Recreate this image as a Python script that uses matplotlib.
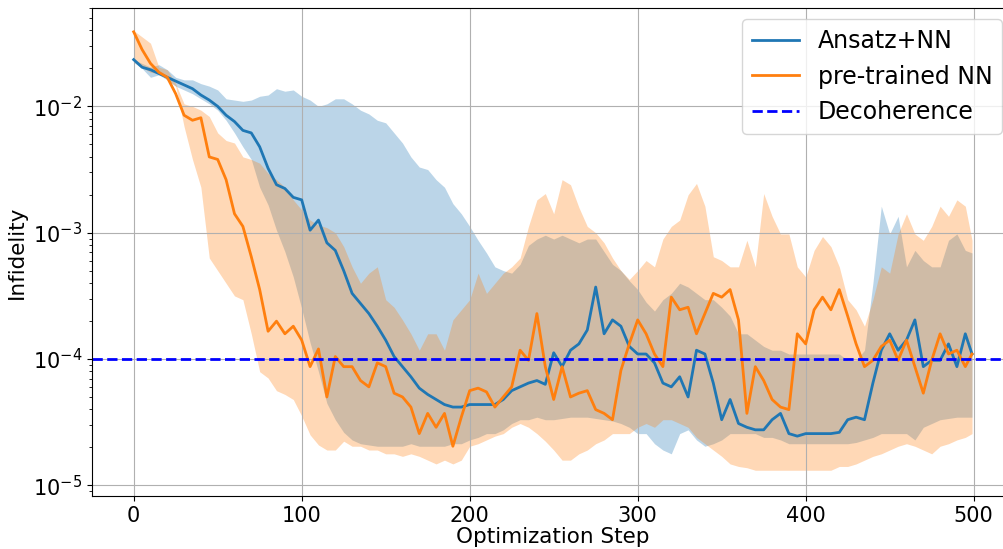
import numpy as np
import matplotlib
matplotlib.use("Agg")
import matplotlib.pyplot as plt

steps = list(range(0, 500, 5)) + [499]

# log10(infidelity), mean curves
ansatz_nn = [-1.63, -1.69, -1.71, -1.74, -1.77, -1.80, -1.83, -1.86, -1.91, -1.95,
             -2.00, -2.07, -2.12, -2.19, -2.21, -2.32, -2.49, -2.62, -2.65, -2.72,
             -2.74, -2.98, -2.90, -3.08, -3.14, -3.30, -3.48, -3.56, -3.64, -3.74,
             -3.85, -3.98, -4.06, -4.14, -4.23, -4.28, -4.32, -4.36, -4.38, -4.38,
             -4.36, -4.36, -4.36, -4.36, -4.32, -4.25, -4.22, -4.19, -4.17, -4.20,
             -3.95, -4.06, -3.93, -3.88, -3.77, -3.43, -3.80, -3.69, -3.74, -3.90,
             -3.96, -3.96, -4.03, -4.19, -4.22, -4.14, -4.30, -3.93, -3.96, -4.19,
             -4.48, -4.32, -4.51, -4.54, -4.56, -4.56, -4.48, -4.43, -4.59, -4.61,
             -4.59, -4.59, -4.59, -4.59, -4.58, -4.48, -4.46, -4.48, -4.19, -3.93,
             -3.80, -3.93, -3.85, -3.69, -4.06, -4.01, -4.01, -3.88, -4.06, -3.80,
             -3.96]
pretrained_nn = [-1.41, -1.55, -1.66, -1.73, -1.77, -1.90, -2.07, -2.11, -2.09, -2.40,
                 -2.42, -2.58, -2.85, -2.95, -3.19, -3.45, -3.78, -3.70, -3.80, -3.74,
                 -3.85, -4.06, -3.92, -4.30, -3.98, -4.06, -4.06, -4.17, -4.22, -4.03,
                 -4.06, -4.27, -4.30, -4.38, -4.59, -4.43, -4.54, -4.43, -4.69, -4.46,
                 -4.25, -4.23, -4.26, -4.38, -4.30, -4.22, -3.93, -4.01, -3.64, -4.06,
                 -4.32, -4.06, -4.30, -4.27, -4.25, -4.40, -4.43, -4.48, -4.09, -3.88,
                 -3.69, -3.80, -3.96, -4.06, -3.51, -3.61, -3.59, -3.80, -3.64, -3.48,
                 -3.51, -3.45, -3.69, -4.43, -4.06, -4.17, -4.32, -4.38, -4.40, -3.80,
                 -3.88, -3.61, -3.51, -3.61, -3.45, -3.66, -3.88, -4.06, -4.01, -3.90,
                 -3.85, -4.01, -3.85, -4.06, -4.27, -4.01, -3.80, -3.96, -3.93, -4.06,
                 -3.96]

# log10(infidelity), shaded band edges
ansatz_hi = [-1.63, -1.66, -1.69, -1.67, -1.71, -1.77, -1.79, -1.79, -1.82, -1.84,
             -1.87, -1.94, -1.95, -1.96, -1.95, -1.92, -1.91, -1.86, -1.88, -1.87,
             -1.92, -1.95, -2.00, -1.98, -1.94, -1.94, -1.98, -2.03, -2.06, -2.11,
             -2.13, -2.21, -2.29, -2.40, -2.48, -2.50, -2.58, -2.64, -2.77, -2.85,
             -2.95, -3.06, -3.16, -3.27, -3.30, -3.32, -3.25, -3.10, -3.05, -3.02,
             -3.05, -3.02, -3.05, -3.08, -3.05, -3.05, -3.15, -3.25, -3.30, -3.38,
             -3.45, -3.55, -3.62, -3.53, -3.48, -3.40, -3.43, -3.48, -3.53, -3.53,
             -3.59, -3.66, -3.80, -3.80, -3.85, -3.90, -3.93, -3.93, -3.96, -3.96,
             -3.96, -3.96, -3.96, -3.96, -3.96, -4.01, -4.01, -3.93, -3.40, -2.79,
             -3.01, -2.87, -3.27, -3.14, -3.22, -3.27, -3.27, -3.06, -3.01, -3.14,
             -3.16]
ansatz_lo = [-1.65, -1.70, -1.77, -1.75, -1.79, -1.84, -1.87, -1.90, -1.94, -1.98,
             -2.03, -2.11, -2.21, -2.32, -2.42, -2.64, -2.78, -2.98, -3.15, -3.35,
             -3.60, -3.87, -4.10, -4.35, -4.48, -4.58, -4.64, -4.67, -4.68, -4.69,
             -4.69, -4.69, -4.69, -4.67, -4.69, -4.69, -4.69, -4.69, -4.67, -4.67,
             -4.64, -4.62, -4.59, -4.59, -4.56, -4.51, -4.48, -4.48, -4.46, -4.48,
             -4.48, -4.47, -4.46, -4.46, -4.46, -4.47, -4.48, -4.49, -4.51, -4.54,
             -4.59, -4.59, -4.67, -4.72, -4.75, -4.59, -4.56, -4.64, -4.69, -4.67,
             -4.64, -4.59, -4.59, -4.59, -4.59, -4.62, -4.62, -4.64, -4.67, -4.67,
             -4.67, -4.67, -4.67, -4.67, -4.67, -4.67, -4.66, -4.64, -4.62, -4.59,
             -4.59, -4.59, -4.59, -4.64, -4.54, -4.51, -4.48, -4.47, -4.46, -4.46,
             -4.46]
pretrained_hi = [-1.40, -1.45, -1.50, -1.69, -1.71, -1.82, -1.98, -2.00, -2.03, -2.08,
                 -2.21, -2.27, -2.29, -2.40, -2.42, -2.45, -2.53, -2.58, -2.64, -2.74,
                 -2.82, -2.90, -2.94, -2.96, -3.00, -3.11, -3.27, -3.40, -3.32, -3.27,
                 -3.53, -3.59, -3.69, -3.80, -3.93, -3.80, -3.80, -3.93, -3.69, -3.61,
                 -3.53, -3.32, -3.48, -3.40, -3.32, -3.27, -3.20, -2.95, -2.74, -2.69,
                 -2.85, -2.58, -2.62, -2.80, -2.95, -3.00, -3.08, -3.20, -3.30, -3.37,
                 -3.30, -3.22, -3.27, -3.05, -2.95, -2.90, -2.70, -2.61, -2.79, -3.19,
                 -3.22, -3.27, -3.27, -3.06, -3.27, -2.69, -2.87, -3.01, -3.01, -3.27,
                 -3.35, -3.14, -3.03, -3.11, -3.27, -3.53, -3.61, -3.74, -3.53, -3.27,
                 -3.32, -3.01, -2.85, -3.01, -3.06, -2.95, -2.79, -2.87, -2.74, -2.79,
                 -3.06]
pretrained_lo = [-1.65, -1.69, -1.73, -1.74, -1.79, -1.84, -2.16, -2.42, -2.64, -3.20,
                 -3.30, -3.40, -3.50, -3.53, -3.80, -4.10, -4.15, -4.25, -4.28, -4.32,
                 -4.45, -4.60, -4.68, -4.72, -4.72, -4.65, -4.69, -4.69, -4.72, -4.72,
                 -4.75, -4.75, -4.77, -4.75, -4.77, -4.80, -4.83, -4.80, -4.83, -4.80,
                 -4.69, -4.67, -4.64, -4.61, -4.59, -4.54, -4.51, -4.54, -4.59, -4.65,
                 -4.72, -4.80, -4.80, -4.75, -4.72, -4.67, -4.64, -4.59, -4.59, -4.59,
                 -4.54, -4.51, -4.54, -4.48, -4.48, -4.51, -4.54, -4.62, -4.67, -4.72,
                 -4.77, -4.83, -4.85, -4.86, -4.88, -4.88, -4.88, -4.88, -4.88, -4.88,
                 -4.88, -4.88, -4.88, -4.88, -4.85, -4.85, -4.83, -4.80, -4.77, -4.75,
                 -4.72, -4.69, -4.67, -4.69, -4.72, -4.75, -4.69, -4.67, -4.64, -4.62,
                 -4.59]

decoherence = 1e-4

x = np.array(steps)
p = lambda v: 10.0 ** np.array(v)

fig = plt.figure(figsize=(10.04, 5.49), dpi=100)
# right spine sits just past the image edge in the reference
ax = fig.add_axes([0.0914, 0.096, 0.9185, 0.8903])

ax.fill_between(x, p(ansatz_lo), p(ansatz_hi), color='C0', alpha=0.3, lw=0)
ax.fill_between(x, p(pretrained_lo), p(pretrained_hi), color='C1', alpha=0.3, lw=0)
ax.plot(x, p(ansatz_nn), color='C0', lw=2, label='Ansatz+NN')
ax.plot(x, p(pretrained_nn), color='C1', lw=2, label='pre-trained NN')
ax.axhline(decoherence, color='b', ls='--', lw=2, label='Decoherence')

ax.set_yscale('log')
ax.set_xlim(-24.95, 523.95)
ax.set_ylim(8.2e-6, 6.06e-2)
ax.set_xticks([0, 100, 200, 300, 400, 500])
ax.grid(True)
ax.tick_params(labelsize=15)
ax.set_xlabel('Optimization Step', fontsize=15.5, labelpad=1)
ax.set_ylabel('Infidelity', fontsize=15.5)
ax.legend(loc='upper right', fontsize=17)

fig.savefig('out.png', dpi=100)
